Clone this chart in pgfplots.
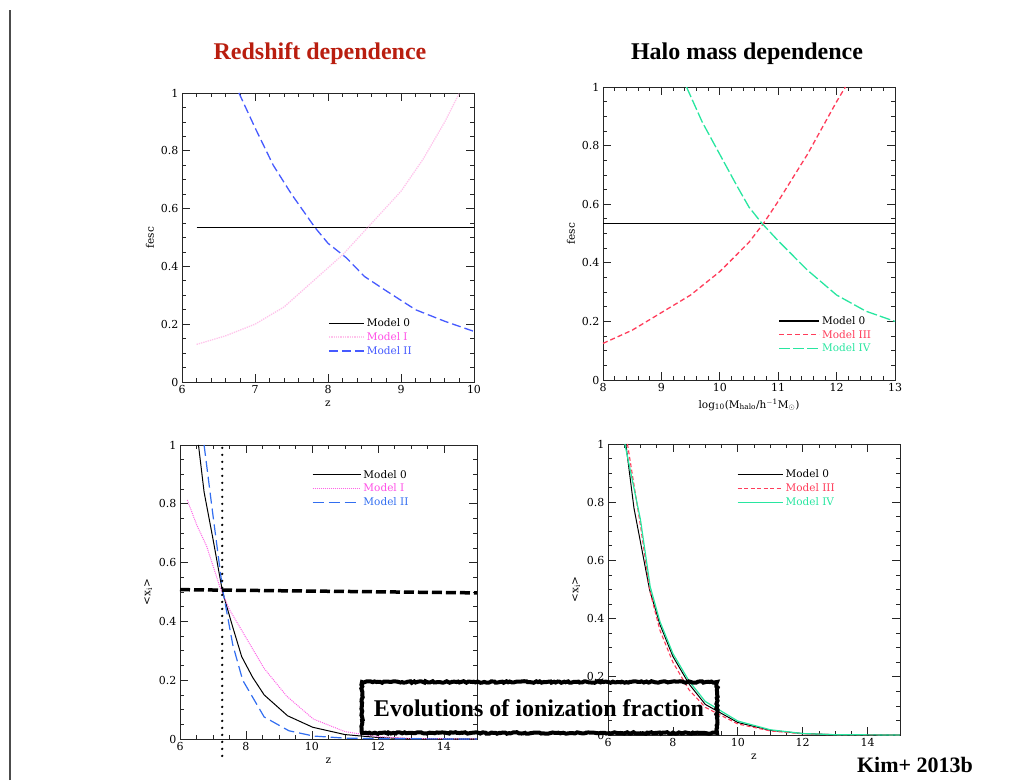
\documentclass[border=0pt]{standalone}
\usepackage{fontspec}
\setmainfont{Liberation Serif}
\newfontfamily\hfont{DejaVu Serif}
\usepackage{pgfplots}
\pgfplotsset{compat=1.18}
\usetikzlibrary{decorations.pathmorphing}
\definecolor{titlered}{RGB}{185,30,15}
\definecolor{pinkfaint}{RGB}{255,195,235}
\definecolor{pinktext}{RGB}{255,80,230}
\definecolor{pinkdot}{RGB}{255,100,230}
\definecolor{blueII}{RGB}{70,90,255}
\definecolor{blueB}{RGB}{50,110,240}
\definecolor{redIII}{RGB}{255,60,90}
\definecolor{greenIV}{RGB}{40,230,160}
\pgfplotsset{
  myax/.style={
    scale only axis, anchor=south west,
    tick align=inside,
    major tick length=8pt, minor tick length=4pt,
    axis line style={line width=0.8pt, black!85},
    every tick/.style={black!85, line width=0.7pt},
    tick label style={font=\hfont\fontsize{11}{13}\selectfont},
    /pgf/number format/assume math mode=true,
    label style={font=\hfont\fontsize{10.5}{13}\selectfont},
    ymin=0, ymax=1, ytick={0,0.2,0.4,0.6,0.8,1},
    yticklabels={0,0.2,0.4,0.6,0.8,1},
    minor y tick num=3,
    clip=false,
    legend cell align=left,
    legend style={draw=none, fill=none, inner sep=0pt, row sep=0pt,
      font=\hfont\fontsize{10.5}{12}\selectfont, nodes={inner sep=2.2pt}},
  }
}
\begin{document}
\begin{tikzpicture}
\path[use as bounding box] (0pt,0pt) rectangle (1021pt,780pt);
\draw[line width=2pt, black!70] (9.5pt,0pt) -- (9.5pt,770pt);
\node[font=\fontsize{24}{28}\selectfont\bfseries, text=titlered] at (320pt,726pt) {Redshift dependence};
\node[font=\fontsize{24}{28}\selectfont\bfseries] at (747pt,726pt) {Halo mass dependence};

% top-left
\begin{axis}[myax, at={(182pt,398pt)}, width=292pt, height=289pt,
  xmin=6, xmax=10, xtick={6,7,8,9,10}, minor x tick num=4,
  xlabel={z}, ylabel={fesc},
  legend style={at={(axis cs:8.0,0.228)}, anchor=north west},
  legend image code/.code={\draw[#1, line width=1.4pt] (0pt,0pt) -- (35pt,0pt);}]
\addplot[black, line width=1pt] coordinates {(6.2,0.535) (10,0.535)};
\addlegendentry{Model 0}
\addplot[pinkfaint, line width=1.3pt, densely dotted] coordinates {(6.2,0.13) (6.6,0.16) (7.0,0.20) (7.4,0.26) (7.8,0.35) (8.2,0.44) (8.6,0.55) (9.0,0.66) (9.3,0.77) (9.6,0.90) (9.8,1.0)};
\addlegendentry[text=pinktext]{Model I}
\addplot[blueII, line width=1.3pt, dash pattern=on 9pt off 4pt] coordinates {(6.78,1.0) (7.0,0.88) (7.25,0.75) (7.5,0.65) (7.82,0.535) (8.0,0.48) (8.25,0.43) (8.5,0.365) (8.8,0.315) (9.2,0.25) (9.6,0.21) (10,0.175)};
\addlegendentry[text=blueII]{Model II}
\end{axis}

% top-right
\begin{axis}[myax, at={(603pt,400pt)}, width=292pt, height=293pt,
  xmin=8, xmax=13, xtick={8,9,10,11,12,13}, minor x tick num=4,
  xlabel={log\textsubscript{10}(M\textsubscript{halo}/h\textsuperscript{$-$1}M\textsubscript{$\odot$})}, ylabel={fesc},
  legend style={at={(axis cs:11.0,0.226)}, anchor=north west},
  legend image code/.code={\draw[#1, line width=1.4pt] (0pt,0pt) -- (40pt,0pt);}]
\addplot[black, line width=1pt] coordinates {(8,0.535) (13,0.535)};
\addlegendentry{Model 0}
\addplot[redIII, line width=1.3pt, dash pattern=on 5pt off 3pt] coordinates {(8,0.125) (8.5,0.17) (9,0.23) (9.5,0.29) (10,0.37) (10.5,0.47) (10.75,0.535) (11,0.61) (11.5,0.77) (12,0.95) (12.15,1.0)};
\addlegendentry[text=redIII]{Model III}
\addplot[greenIV, line width=1.3pt, dash pattern=on 11pt off 3pt] coordinates {(9.43,1.0) (9.7,0.88) (10,0.77) (10.3,0.66) (10.5,0.59) (10.72,0.535) (11,0.475) (11.5,0.375) (12,0.29) (12.5,0.235) (13,0.2)};
\addlegendentry[text=greenIV]{Model IV}
\end{axis}

% bottom-left
\begin{axis}[myax, at={(180pt,41pt)}, width=297pt, height=294pt,
  xmin=6, xmax=15, xtick={6,8,10,12,14}, minor x tick num=3,
  xlabel={z}, ylabel={<x\textsubscript{i}>},
  legend style={at={(axis cs:9.99,0.923)}, anchor=north west},
  legend image code/.code={\draw[#1, line width=1.4pt] (0pt,0pt) -- (48pt,0pt);}]
\addplot[black, line width=1pt] coordinates {(6.56,1.0) (6.73,0.84) (7.0,0.68) (7.29,0.5) (7.6,0.38) (7.87,0.28) (8.2,0.21) (8.55,0.15) (9.26,0.079) (10.02,0.04) (11,0.015) (12,0.005) (13,0.001) (15,0)};
\addlegendentry{Model 0}
\addplot[pinkdot, line width=1pt, densely dotted] coordinates {(6.22,0.813) (6.5,0.73) (6.81,0.655) (7.2,0.52) (7.5,0.44) (7.92,0.36) (8.55,0.24) (9.24,0.145) (10.04,0.068) (11,0.025) (12,0.008) (13,0.002) (15,0)};
\addlegendentry[text=pinktext]{Model I}
\addplot[blueB, line width=1.2pt, dash pattern=on 11pt off 5pt] coordinates {(6.73,1.0) (7.0,0.76) (7.29,0.51) (7.6,0.32) (7.9,0.2) (8.55,0.075) (9.3,0.028) (10.05,0.01) (11,0.003) (12,0.001) (15,0)};
\addlegendentry[text=blueB]{Model II}
\addplot[black, line width=2.6pt, line cap=round, dash pattern=on 0pt off 7pt, forget plot] coordinates {(7.28,0.99) (7.28,-0.075)};
\addplot[black, line width=3.5pt, dash pattern=on 10pt off 4pt, forget plot] coordinates {(6,0.508) (15,0.497)};
\end{axis}

% bottom-right
\begin{axis}[myax, at={(608pt,45pt)}, width=292pt, height=291pt,
  xmin=6, xmax=15, xtick={6,8,10,12,14}, minor x tick num=3,
  xlabel={z}, ylabel={<x\textsubscript{i}>},
  legend style={at={(axis cs:9.97,0.919)}, anchor=north west},
  legend image code/.code={\draw[#1, line width=1.4pt] (0pt,0pt) -- (45pt,0pt);}]
\addplot[black, line width=1pt] coordinates {(6.55,1.0) (6.8,0.78) (7.28,0.5) (7.6,0.38) (8,0.27) (8.5,0.175) (9,0.105) (10,0.043) (11,0.016) (12,0.005) (13,0.001) (15,0)};
\addlegendentry{Model 0}
\addplot[redIII, line width=1.1pt, dash pattern=on 4pt off 2.5pt] coordinates {(6.6,1.0) (7.0,0.72) (7.3,0.49) (7.6,0.36) (8,0.25) (8.5,0.155) (9,0.095) (10,0.038) (11,0.014) (12,0.004) (13,0.001) (15,0)};
\addlegendentry[text=redIII]{Model III}
\addplot[greenIV, line width=1.2pt] coordinates {(6.52,1.0) (7.0,0.74) (7.3,0.51) (7.6,0.39) (8,0.28) (8.5,0.185) (9,0.115) (10,0.048) (11,0.018) (12,0.005) (13,0.001) (15,0)};
\addlegendentry[text=greenIV]{Model IV}
\end{axis}

\draw[line width=4pt, decorate, decoration={random steps, segment length=2pt, amplitude=0.8pt}] (362pt,47pt) rectangle (717pt,98pt);
\node[font=\fontsize{24}{28}\selectfont\bfseries] at (539pt,72pt) {Evolutions of ionization fraction};
\node[font=\fontsize{22}{26}\selectfont\bfseries] at (915pt,15pt) {Kim+ 2013b};
\end{tikzpicture}
\end{document}
